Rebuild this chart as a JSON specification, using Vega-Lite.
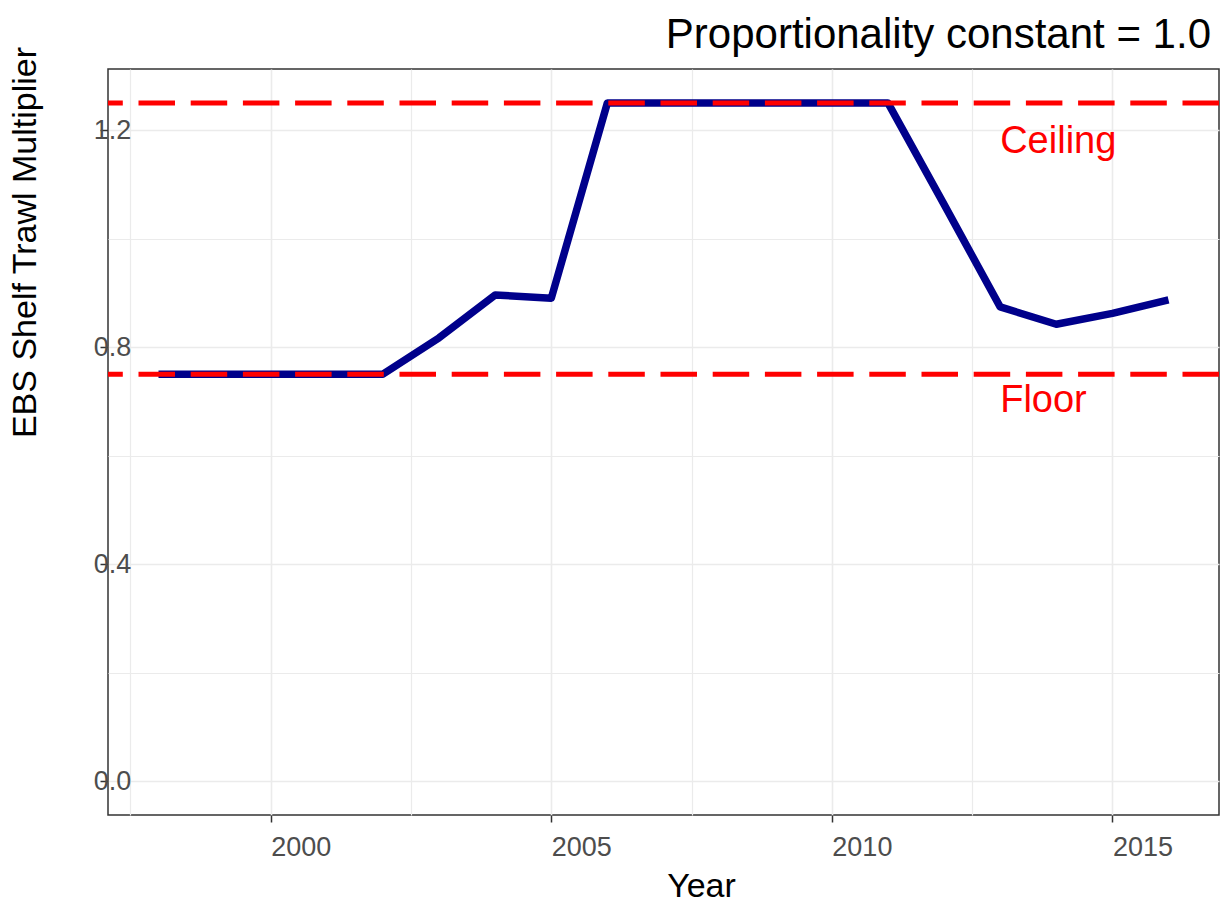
{
  "$schema": "https://vega.github.io/schema/vega-lite/v6.json",
  "width": 1111,
  "height": 746,
  "autosize": {"type": "none"},
  "padding": {"left": 108, "top": 69, "right": 6, "bottom": 88},
  "background": "white",
  "title": {
    "text": "Proportionality constant = 1.0",
    "anchor": "end",
    "frame": "group",
    "fontSize": 42,
    "font": "Liberation Sans",
    "fontWeight": "normal",
    "color": "black",
    "baseline": "alphabetic",
    "offset": -44,
    "dx": -8
  },
  "config": {
    "view": {"stroke": "#333333", "strokeWidth": 1.5},
    "font": "Liberation Sans"
  },
  "datasets": {
    "series": [
      {"Year": 1998, "value": 0.75},
      {"Year": 1999, "value": 0.75},
      {"Year": 2000, "value": 0.75},
      {"Year": 2001, "value": 0.75},
      {"Year": 2002, "value": 0.75},
      {"Year": 2003, "value": 0.817},
      {"Year": 2004, "value": 0.896},
      {"Year": 2005, "value": 0.89},
      {"Year": 2006, "value": 1.25},
      {"Year": 2007, "value": 1.25},
      {"Year": 2008, "value": 1.25},
      {"Year": 2009, "value": 1.25},
      {"Year": 2010, "value": 1.25},
      {"Year": 2011, "value": 1.25},
      {"Year": 2012, "value": 1.063},
      {"Year": 2013, "value": 0.874},
      {"Year": 2014, "value": 0.842},
      {"Year": 2015, "value": 0.862},
      {"Year": 2016, "value": 0.887}
    ],
    "limits": [
      {"value": 1.25, "name": "Ceiling"},
      {"value": 0.75, "name": "Floor"}
    ],
    "labels": [
      {"Year": 2013, "value": 1.158, "label": "Ceiling"},
      {"Year": 2013, "value": 0.68, "label": "Floor"}
    ]
  },
  "layer": [
    {
      "data": {"name": "series"},
      "mark": {"type": "line", "color": "#00008b", "strokeWidth": 7.5, "strokeJoin": "round", "strokeCap": "butt"},
      "encoding": {
        "x": {
          "field": "Year",
          "type": "quantitative",
          "scale": {"domain": [1997.1, 2016.9], "nice": false, "zero": false},
          "axis": {
            "title": "Year",
            "values": [1997.5, 2000, 2002.5, 2005, 2007.5, 2010, 2012.5, 2015],
            "labelExpr": "datum.value % 5 == 0 ? format(datum.value, 'd') : ''",
            "labelAlign": "left",
            "labelBaseline": "alphabetic",
            "labelFontSize": 27,
            "labelColor": "#4d4d4d",
            "labelFont": "Liberation Sans",
            "labelPadding": 33,
            "labelFlush": false,
            "labelOverlap": false,
            "tickSize": 7,
            "tickWidth": 1.5,
            "tickColor": {"condition": {"test": "datum.value % 5 == 0", "value": "#333333"}, "value": "transparent"},
            "domain": false,
            "grid": true,
            "gridColor": "#ebebeb",
            "gridWidth": {"condition": {"test": "datum.value % 5 == 0", "value": 1.6}, "value": 1.2},
            "titleFontSize": 34,
            "titleFont": "Liberation Sans",
            "titleFontWeight": "normal",
            "titleColor": "black",
            "titleX": 593,
            "titleY": 81,
            "titleBaseline": "alphabetic",
            "titleAlign": "center"
          }
        },
        "y": {
          "field": "value",
          "type": "quantitative",
          "scale": {"domain": [-0.0625, 1.3125], "nice": false, "zero": false},
          "axis": {
            "title": "EBS Shelf Trawl Multiplier",
            "values": [0, 0.2, 0.4, 0.6, 0.8, 1.0, 1.2],
            "labelExpr": "round(datum.value * 10) % 4 == 0 ? format(datum.value, '.1f') : ''",
            "labelAlign": "center",
            "labelBaseline": "middle",
            "labelFontSize": 27,
            "labelColor": "#4d4d4d",
            "labelFont": "Liberation Sans",
            "labelPadding": -12,
            "labelFlush": false,
            "labelOverlap": false,
            "tickSize": 8,
            "tickWidth": 1.5,
            "tickColor": {"condition": {"test": "round(datum.value * 10) % 4 == 0", "value": "#333333"}, "value": "transparent"},
            "domain": false,
            "grid": true,
            "gridColor": "#ebebeb",
            "gridWidth": {"condition": {"test": "round(datum.value * 10) % 4 == 0", "value": 1.6}, "value": 1.2},
            "titleFontSize": 34,
            "titleFont": "Liberation Sans",
            "titleFontWeight": "normal",
            "titleColor": "black",
            "titleAngle": -90,
            "titleX": -73,
            "titleY": 173,
            "titleBaseline": "alphabetic",
            "titleAlign": "center"
          }
        }
      }
    },
    {
      "data": {"name": "limits"},
      "mark": {"type": "rule", "color": "#ff0000", "strokeWidth": 5, "strokeDash": [36.5, 15.7], "strokeCap": "butt"},
      "encoding": {
        "y": {"field": "value", "type": "quantitative"}
      }
    },
    {
      "data": {"name": "labels"},
      "mark": {"type": "text", "color": "#ff0000", "fontSize": 38, "font": "Liberation Sans", "align": "left", "baseline": "alphabetic"},
      "encoding": {
        "x": {"field": "Year", "type": "quantitative"},
        "y": {"field": "value", "type": "quantitative"},
        "text": {"field": "label", "type": "nominal"}
      }
    }
  ]
}
